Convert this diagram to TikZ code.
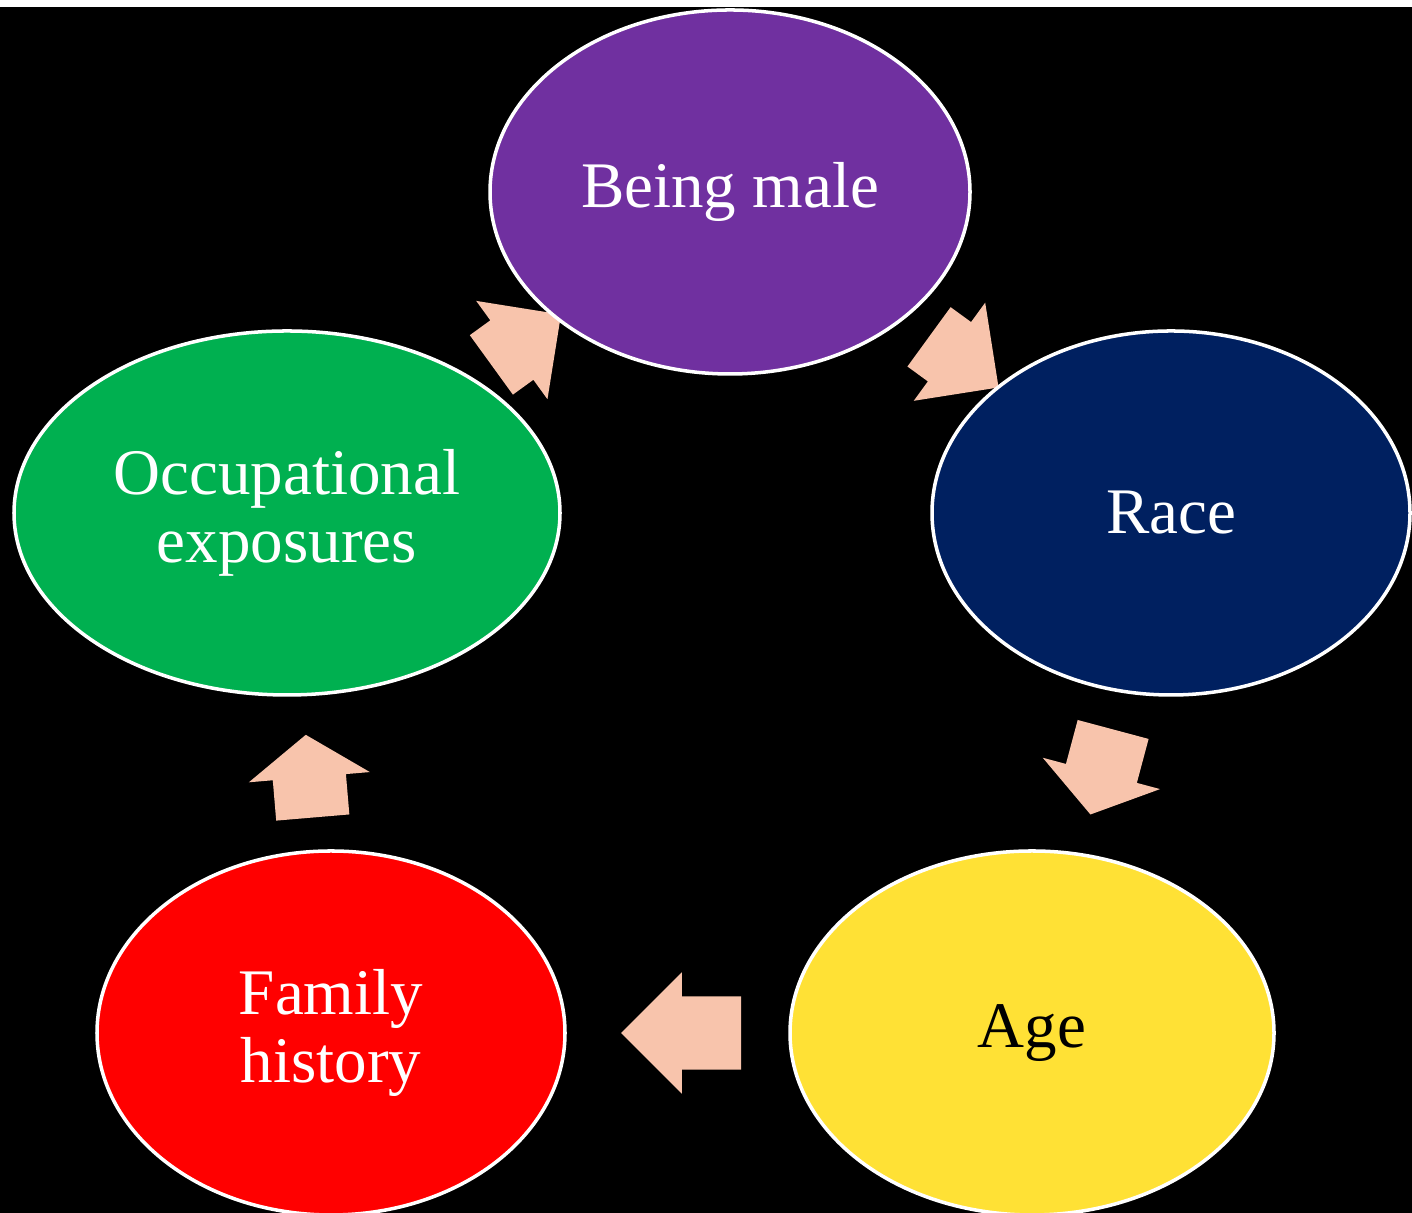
\documentclass[tikz,border=0pt]{standalone}
\usepackage{fontspec}
\setmainfont{Liberation Serif}
\usetikzlibrary{shapes.geometric,shapes.arrows,backgrounds}

\definecolor{malepurple}{HTML}{7030A0}
\definecolor{racenavy}{HTML}{002060}
\definecolor{ageyellow}{HTML}{FFE135}
\definecolor{familyred}{HTML}{FF0000}
\definecolor{occgreen}{HTML}{00B050}
\definecolor{arrowpeach}{HTML}{F8C4AC}

\tikzset{
  factor/.style={ellipse, draw=white, line width=1pt, inner sep=0pt,
    minimum width=4.8cm, minimum height=3.64cm, text=white, align=center,
    font=\fontsize{18.5}{19.5}\selectfont},
  cyclearrow/.style={single arrow, fill=arrowpeach, draw=none,
    inner xsep=0pt, inner ysep=0.36cm, minimum width=1.2cm,
    single arrow head extend=0.24cm, sloped, allow upside down, anchor=tail},
}

\begin{document}
\begin{tikzpicture}
  \useasboundingbox (0,0) rectangle (14.12,12.13);

  \node[factor, fill=malepurple] (male) at (7.30,10.21) {Being male};
  \node[factor, fill=racenavy, minimum width=4.78cm] (race) at (11.71,7.00) {Race};
  \node[factor, fill=ageyellow, text=black, minimum width=4.84cm] (age) at (10.32,1.80) {Age};
  \node[factor, fill=familyred, minimum width=4.68cm] (family) at (3.31,1.80) {Family\\history};
  \node[factor, fill=occgreen, minimum width=5.46cm] (occ) at (2.87,7.00) {Occupational\\exposures};

  \begin{scope}[on background layer]
    \fill[white] (0,0) rectangle (14.12,12.13);
    \fill[black] (0,0) rectangle (14.12,12.06);
    \path (occ.center) -- (male.center)
      node[cyclearrow, pos=0.46, minimum height=0.86cm] (occ-male) {};
    \path (male.center) -- (race.center)
      node[cyclearrow, pos=0.45, minimum height=0.86cm] (male-race) {};
    \path (race.center) -- (age.center)
      node[cyclearrow, pos=0.415, minimum height=0.88cm, single arrow tip angle=110] (race-age) {};
    \path (age.center) -- (family.center)
      node[cyclearrow, pos=0.414, minimum height=1.2cm] (age-family) {};
    \path (family.center) -- (occ.center)
      node[cyclearrow, pos=0.413, minimum height=0.83cm, single arrow tip angle=110] (family-occ) {};
  \end{scope}
\end{tikzpicture}
\end{document}
